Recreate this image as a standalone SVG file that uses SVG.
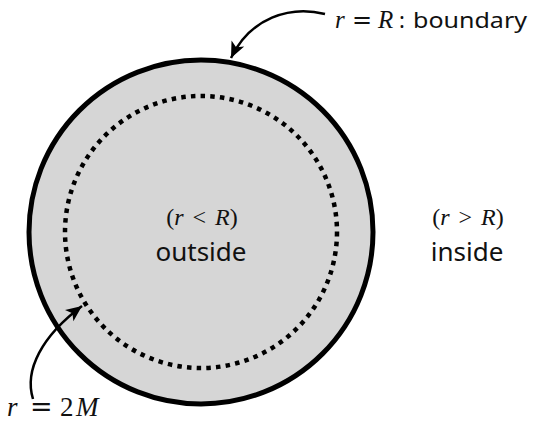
<svg xmlns="http://www.w3.org/2000/svg" width="541" height="423" viewBox="0 0 541 423">
<defs>
<style>
.sans{font-family:"Noto Sans","Open Sans","DejaVu Sans",sans-serif;fill:#111}
.math{font-family:"Liberation Serif","Times New Roman",serif;fill:#111}
.eq{font-family:"DejaVu Serif","Liberation Serif",serif;font-style:normal}
.it{font-style:italic}
.arrow{fill:none;stroke:#000;stroke-width:2.5;marker-end:url(#ah)}
</style>
<marker id="ah" markerUnits="userSpaceOnUse" markerWidth="20" markerHeight="20" viewBox="0 0 20 20" refX="18" refY="10" orient="auto">
<path d="M18 10 L2 3 L6 10 L2 17 Z" fill="#000"/>
</marker>
</defs>
<rect width="541" height="423" fill="#fff"/>
<g id="boundary">
<circle cx="201" cy="232" r="172" fill="#d6d6d6" stroke="#000" stroke-width="5"/>
</g>
<g id="horizon">
<circle cx="201" cy="232" r="136" fill="none" stroke="#000" stroke-width="4.5" stroke-dasharray="4.5 5.2"/>
</g>
<g id="outside-label">
<text class="math" x="202" y="225" font-size="24" word-spacing="3" text-anchor="middle">(<tspan class="it">r</tspan> &lt; <tspan class="it">R</tspan>)</text>
<text class="sans" x="201" y="261" font-size="26" text-anchor="middle">outside</text>
</g>
<g id="inside-label">
<text class="math" x="468" y="225" font-size="24" word-spacing="3" text-anchor="middle">(<tspan class="it">r</tspan> &gt; <tspan class="it">R</tspan>)</text>
<text class="sans" x="467" y="261" font-size="26" text-anchor="middle">inside</text>
</g>
<g id="boundary-label">
<text class="math" y="28" font-size="25"><tspan class="it" x="335">r</tspan><tspan class="eq" x="352" font-size="24">=</tspan><tspan class="it" x="378">R</tspan></text>
<text class="sans" x="399" y="28" font-size="22">:</text>
<text class="sans" x="413" y="28" font-size="22" textLength="114" lengthAdjust="spacingAndGlyphs">boundary</text>
</g>
<g id="horizon-label">
<text class="math" y="416" font-size="27"><tspan class="it" x="7">r</tspan><tspan class="eq" x="30" font-size="27">=</tspan><tspan x="60">2</tspan><tspan class="it" x="76">M</tspan></text>
</g>
<g id="connectors">
<path class="arrow" d="M 325 14 C 290 5, 250 18, 231 58"/>
<path class="arrow" d="M 33 399 C 24 370, 42 336, 82 306"/>
</g>
</svg>
